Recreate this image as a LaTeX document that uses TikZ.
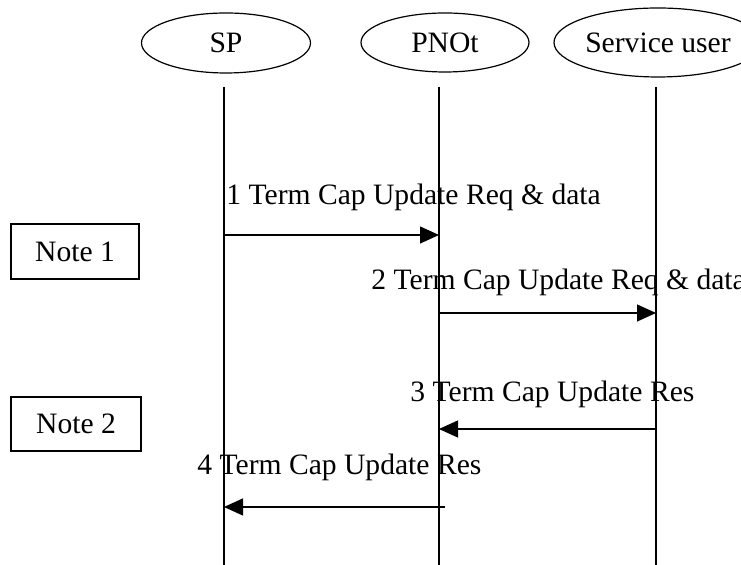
\documentclass[tikz,border=0pt]{standalone}
\usepackage{fontspec}
\setmainfont{Liberation Serif}
\usetikzlibrary{arrows.meta,shapes.geometric}

\tikzset{
	party/.style={draw, ellipse, inner sep=0pt, line width=0.6pt},
	notebox/.style={draw, rectangle, inner sep=0pt, line width=0.6pt, minimum width=64pt, minimum height=27.5pt},
	life/.style={line width=0.6pt},
	msg/.style={line width=0.6pt, -{Triangle[length=9.5pt,width=8.5pt]}},
	msglabel/.style={anchor=base west, inner sep=0pt}
}

\begin{document}
\begin{tikzpicture}[x=0.5pt, y=-0.5pt, font=\fontsize{14.8}{18}\selectfont]
		\useasboundingbox (0,0) rectangle (741,565);
		%\draw[help lines] (0,0) grid (741,565);
		\node[party, minimum width=84.5pt, minimum height=30pt] (sp) at (226,43) {SP};
		\node[party, minimum width=84pt, minimum height=29.5pt] (pnot) at (445,42.5) {PNOt};
		\node[party, minimum width=104pt, minimum height=34.5pt] (user) at (658,42.5) {Service user};
		\foreach \n/\x in {sp/224, pnot/439, user/656} {
			\coordinate (\n top) at (\x,87);
			\coordinate (\n bot) at (\x,565);
			\draw[life] (\n top) -- (\n bot);
		}
		\node[notebox] (note1) at (75,251.5) {Note 1};
		\node[notebox, minimum width=65pt, minimum height=27pt] (note2) at (76,424) {Note 2};
		% messages
		\coordinate (m1a) at (224,235); \coordinate (m1b) at (439,235);
		\coordinate (m2a) at (439,313); \coordinate (m2b) at (656,313);
		\coordinate (m3a) at (656,429); \coordinate (m3b) at (439,429);
		\coordinate (m4a) at (445,507); \coordinate (m4b) at (224,507);
		\draw[msg] (m1a) -- (m1b);
		\draw[msg] (m2a) -- (m2b);
		\draw[msg] (m3a) -- (m3b);
		\draw[msg] (m4a) -- (m4b);
		\node[msglabel] (l1) at (226,205) {1 Term Cap Update Req \& data};
		\node[msglabel] (l2) at (371,290) {2 Term Cap Update Req \& data};
		\node[msglabel] (l3) at (410,402) {3 Term Cap Update Res};
		\node[msglabel] (l4) at (197,475) {4 Term Cap Update Res};
\end{tikzpicture}
\end{document}
